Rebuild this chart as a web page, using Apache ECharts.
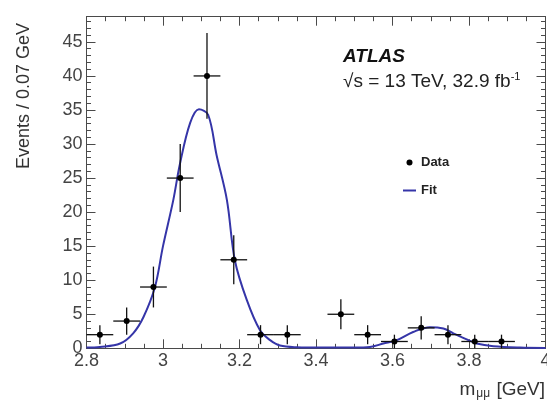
<!DOCTYPE html>
<html>
<head>
<meta charset="utf-8">
<script src="https://cdn.jsdelivr.net/npm/echarts@6/dist/echarts.min.js"></script>
<style>
html,body{margin:0;padding:0;background:#fff;}
#c{width:547px;height:404px;}
</style>
</head>
<body>
<div id="c"></div>
<script>
// ---- data ----
const binCenters = [2.835, 2.905, 2.975, 3.045, 3.115, 3.185, 3.255, 3.325, 3.465, 3.535, 3.605, 3.675, 3.745, 3.815, 3.885];
const counts     = [2, 4, 9, 25, 40, 13, 2, 2, 5, 2, 1, 3, 2, 1, 1];
const errors     = [1.4, 2, 3, 5, 6.3, 3.6, 1.4, 1.4, 2.2, 1.4, 1, 1.7, 1.4, 1, 1];
const binHalfWidth = 0.035;

const fitX = [2.80, 2.835, 2.888, 2.922, 2.949, 2.979, 3.000, 3.027, 3.044, 3.071, 3.094, 3.118, 3.140, 3.167, 3.188, 3.219, 3.254, 3.280, 3.306, 3.350, 3.413, 3.500, 3.541, 3.576, 3.611, 3.654, 3.698, 3.733, 3.759, 3.794, 3.820, 3.864, 3.933, 4.000];
const fitY = [0.1, 0.2, 0.7, 2.2, 4.6, 9.0, 15.0, 21.8, 27.0, 33.1, 35.1, 34.3, 28.4, 21.8, 12.9, 7.1, 2.6, 1.2, 0.4, 0.15, 0.1, 0.1, 0.2, 0.7, 1.2, 2.4, 3.1, 2.9, 2.2, 1.3, 0.7, 0.3, 0.1, 0.05];

const xTickLabels = ['2.8', '3', '3.2', '3.4', '3.6', '3.8', '4'];
const yTickLabels = ['0', '5', '10', '15', '20', '25', '30', '35', '40', '45'];

const xMin = 2.8, xMax = 4.0, xStep = 0.2;
const yMin = 0, yMax = 48.7, yStep = 5;

// ---- chart ----
const FONT = '"Liberation Sans", Arial, Helvetica, sans-serif';
const AXIS_COLOR = '#4a4a4a';
const FIT_COLOR = '#3535a8';

function xLabel(v) {
  const k = Math.round((v - xMin) / xStep);
  if (Math.abs((v - xMin) / xStep - k) > 1e-6) return '';
  return xTickLabels[k] !== undefined ? xTickLabels[k] : '';
}
function yLabel(v) {
  const k = Math.round((v - yMin) / yStep);
  if (Math.abs((v - yMin) / yStep - k) > 1e-6) return '';
  return yTickLabels[k] !== undefined ? yTickLabels[k] : '';
}

function baseX(pos, showLabel) {
  return {
    type: 'value', position: pos, min: xMin, max: xMax, interval: xStep,
    axisLine: { show: true, onZero: false, lineStyle: { color: AXIS_COLOR, width: 1 } },
    axisTick: { show: true, inside: true, length: 9, lineStyle: { color: AXIS_COLOR } },
    minorTick: { show: true, splitNumber: 4, length: 4.5, lineStyle: { color: AXIS_COLOR } },
    splitLine: { show: false }, minorSplitLine: { show: false },
    axisLabel: { show: showLabel, formatter: xLabel, color: '#444', fontSize: 18, fontFamily: FONT, margin: 4, hideOverlap: false }
  };
}
function baseY(pos, showLabel) {
  return {
    type: 'value', position: pos, min: yMin, max: yMax, interval: yStep,
    axisLine: { show: true, onZero: false, lineStyle: { color: AXIS_COLOR, width: 1 } },
    axisTick: { show: true, inside: true, length: 9, lineStyle: { color: AXIS_COLOR } },
    minorTick: { show: true, splitNumber: 5, length: 4.5, lineStyle: { color: AXIS_COLOR } },
    splitLine: { show: false }, minorSplitLine: { show: false },
    axisLabel: { show: showLabel, formatter: yLabel, color: '#444', fontSize: 18, fontFamily: FONT, margin: 4, hideOverlap: false }
  };
}

const pointData = binCenters.map((x, i) => [x, counts[i], errors[i], binHalfWidth]);
const fitData = fitX.map((x, i) => [x, fitY[i]]);

function renderPoint(params, api) {
  const x = api.value(0), y = api.value(1), e = api.value(2), hw = api.value(3);
  const c = api.coord([x, y]);
  const l = api.coord([x - hw, y]);
  const r = api.coord([x + hw, y]);
  const t = api.coord([x, y + e]);
  const b = api.coord([x, y - e]);
  const st = { stroke: '#111', lineWidth: 1.3 };
  return {
    type: 'group',
    children: [
      { type: 'line', shape: { x1: l[0], y1: c[1], x2: r[0], y2: c[1] }, style: st },
      { type: 'line', shape: { x1: c[0], y1: t[1], x2: c[0], y2: b[1] }, style: st },
      { type: 'circle', shape: { cx: c[0], cy: c[1], r: 3 }, style: { fill: '#000' } }
    ]
  };
}

const chart = echarts.init(document.getElementById('c'), null, { renderer: 'canvas' });
chart.setOption({
  animation: false,
  backgroundColor: '#fff',
  grid: { left: 86.5, right: 1.5, top: 16.7, bottom: 55.7, containLabel: false, outerBoundsMode: 'none' },
  xAxis: [baseX('bottom', true), baseX('top', false)],
  yAxis: [baseY('left', true), baseY('right', false)],
  legend: {
    orient: 'vertical', left: 403, top: 156, itemGap: 15, padding: 0,
    itemWidth: 13, itemHeight: 6,
    textStyle: { fontFamily: FONT, fontSize: 13, fontWeight: 'bold', color: '#222' },
    data: [
      { name: 'Data', icon: 'circle' },
      { name: 'Fit', icon: 'path://M0,0H13V2H0Z', itemStyle: { color: FIT_COLOR } }
    ]
  },
  series: [
    {
      name: 'Fit', type: 'line', xAxisIndex: 0, yAxisIndex: 0,
      data: fitData, smooth: 0.35, symbol: 'none', showSymbol: false,
      lineStyle: { color: FIT_COLOR, width: 2 }, itemStyle: { color: FIT_COLOR }, z: 2
    },
    {
      name: 'Data', type: 'custom', xAxisIndex: 0, yAxisIndex: 0,
      data: pointData, renderItem: renderPoint,
      itemStyle: { color: '#000' }, z: 3,
      encode: { x: 0, y: 1 }
    }
  ],
  graphic: [
    { type: 'text', left: 343, top: 47, style: { text: 'ATLAS', font: 'italic bold 19px ' + FONT, fill: '#111' } },
    {
      type: 'text', left: 343, top: 71,
      style: {
        text: '{a|√s = 13 TeV, 32.9 fb}{b|-1}',
        rich: {
          a: { fontFamily: FONT, fontSize: 19, fill: '#222', color: '#222' },
          b: { fontFamily: FONT, fontSize: 11, fill: '#222', color: '#222', verticalAlign: 'top', padding: [0, 0, 10, 0] }
        }
      }
    },
    {
      type: 'text', x: 24, y: 96, rotation: Math.PI / 2,
      style: { text: 'Events / 0.07 GeV', font: '18px ' + FONT, fill: '#333', align: 'center', verticalAlign: 'middle' }
    },
    {
      type: 'text', right: 2, top: 380,
      style: {
        text: '{m|m}{s|μμ}{m| [GeV]}',
        rich: {
          m: { fontFamily: FONT, fontSize: 19, fill: '#333', color: '#333' },
          s: { fontFamily: FONT, fontSize: 12, fill: '#333', color: '#333', padding: [8, 1, 0, 1] }
        }
      }
    }
  ]
});
</script>
</body>
</html>
